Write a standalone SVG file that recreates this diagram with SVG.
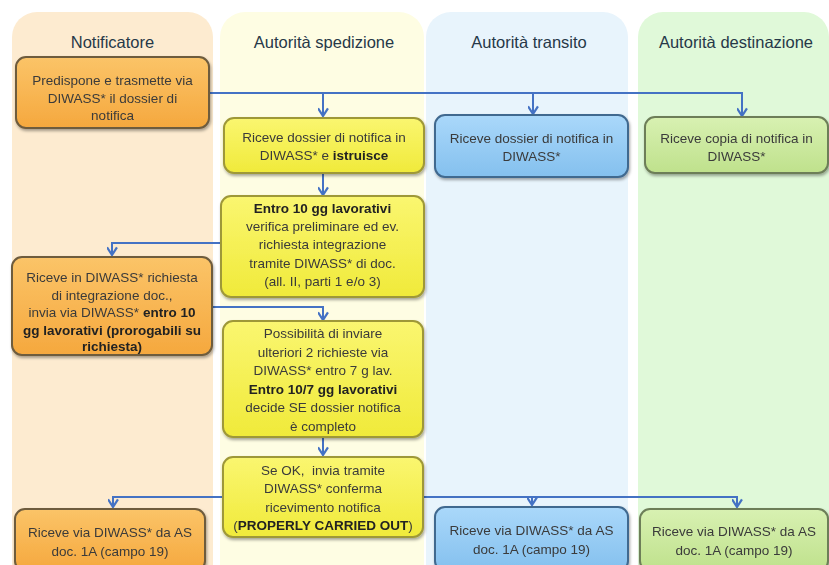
<svg xmlns="http://www.w3.org/2000/svg" width="829" height="565" viewBox="0 0 829 565">
<style>
.hdr{font-family:"Liberation Sans",Arial,sans-serif;font-size:16.5px;fill:#263848;text-anchor:middle}
.t{font-family:"Liberation Sans",Arial,sans-serif;font-size:13.5px;fill:#3a3a3a;text-anchor:middle}
.b{font-weight:bold;fill:#222}
.conn{fill:none;stroke:#4472C4;stroke-width:2}
.orange{fill:url(#gO);stroke:#6E5B3C;stroke-width:2}
.yellow{fill:url(#gY);stroke:#9E9838;stroke-width:2}
.blue{fill:url(#gB);stroke:#41698F;stroke-width:2}
.green{fill:url(#gG);stroke:#6D7E58;stroke-width:2}
</style>
<defs>
<linearGradient id="gO" x1="0" y1="0" x2="0" y2="1"><stop offset="0" stop-color="#FBC468"/><stop offset="1" stop-color="#F5A83E"/></linearGradient>
<linearGradient id="gY" x1="0" y1="0" x2="0" y2="1"><stop offset="0" stop-color="#FAF670"/><stop offset="1" stop-color="#F0EA3A"/></linearGradient>
<linearGradient id="gB" x1="0" y1="0" x2="0" y2="1"><stop offset="0" stop-color="#AAD8FA"/><stop offset="1" stop-color="#84C0EE"/></linearGradient>
<linearGradient id="gG" x1="0" y1="0" x2="0" y2="1"><stop offset="0" stop-color="#D8F1B2"/><stop offset="1" stop-color="#BFE18C"/></linearGradient>
<filter id="sh" x="-10%" y="-10%" width="120%" height="130%"><feDropShadow dx="1" dy="2" stdDeviation="1.5" flood-color="#000" flood-opacity="0.35"/></filter>
<marker id="arr" viewBox="0 0 10 10" refX="9" refY="5" markerWidth="11" markerHeight="11" markerUnits="userSpaceOnUse" orient="auto"><path d="M2,0.5 L9,5 L2,9.5" fill="none" stroke="#4472C4" stroke-width="2"/></marker>
</defs>
<rect width="829" height="565" fill="#fff"/>
<g id="lanes">
<rect x="12" y="12" width="201" height="600" rx="25" fill="#FDEBD0"/>
<rect x="220" y="12" width="204" height="600" rx="25" fill="#FEFDE3"/>
<rect x="426" y="12" width="202" height="600" rx="25" fill="#E8F4FC"/>
<rect x="638" y="12" width="191" height="600" rx="25" fill="#E0F9D9"/>
<text class="hdr" x="112.5" y="48">Notificatore</text>
<text class="hdr" x="324" y="48">Autorità spedizione</text>
<text class="hdr" x="529" y="48">Autorità transito</text>
<text class="hdr" x="736" y="48">Autorità destinazione</text>
</g>
<g id="connectors">
<path class="conn" d="M209,93 H742 V116" marker-end="url(#arr)"/>
<path class="conn" d="M323,93 V116" marker-end="url(#arr)"/>
<path class="conn" d="M533,93 V114" marker-end="url(#arr)"/>
<path class="conn" d="M323,173 V195" marker-end="url(#arr)"/>
<path class="conn" d="M221,243 H112 V255" marker-end="url(#arr)"/>
<path class="conn" d="M212,307 H323 V320" marker-end="url(#arr)"/>
<path class="conn" d="M323,437 V455" marker-end="url(#arr)"/>
<path class="conn" d="M223,497 H113 V507" marker-end="url(#arr)"/>
<path class="conn" d="M423,497 H737 V507" marker-end="url(#arr)"/>
<path class="conn" d="M532,497 V505" marker-end="url(#arr)"/>
</g>
<g id="n1" filter="url(#sh)">
<rect class="orange" x="16" y="57" width="193" height="71" rx="10"/>
<text class="t" x="112.5" y="85">Predispone e trasmette via</text>
<text class="t" x="112.5" y="102.5">DIWASS* il dossier di</text>
<text class="t" x="112.5" y="120">notifica</text>
</g>
<g id="n2" filter="url(#sh)">
<rect class="yellow" x="224" y="118" width="200" height="55" rx="10"/>
<text class="t" x="324" y="141.5">Riceve dossier di notifica in</text>
<text class="t" x="324" y="160">DIWASS* e <tspan class="b">istruisce</tspan></text>
</g>
<g id="n3" filter="url(#sh)">
<rect class="blue" x="435" y="115" width="193" height="62" rx="10"/>
<text class="t" x="531.5" y="142.5">Riceve dossier di notifica in</text>
<text class="t" x="531.5" y="161">DIWASS*</text>
</g>
<g id="n4" filter="url(#sh)">
<rect class="green" x="645" y="117" width="183" height="56" rx="10"/>
<text class="t" x="736.5" y="142.5">Riceve copia di notifica in</text>
<text class="t" x="736.5" y="161">DIWASS*</text>
</g>
<g id="n5" filter="url(#sh)">
<rect class="yellow" x="221" y="196" width="203" height="101" rx="10"/>
<text class="t b" x="322.5" y="213">Entro 10 gg lavorativi</text>
<text class="t" x="322.5" y="231">verifica preliminare ed ev.</text>
<text class="t" x="322.5" y="249">richiesta integrazione</text>
<text class="t" x="322.5" y="268">tramite DIWASS* di doc.</text>
<text class="t" x="322.5" y="286">(all. II, parti 1 e/o 3)</text>
</g>
<g id="n6" filter="url(#sh)">
<rect class="orange" x="12" y="257" width="200" height="98" rx="10"/>
<text class="t" x="112" y="282">Riceve in DIWASS* richiesta</text>
<text class="t" x="112" y="299.5">di integrazione doc.,</text>
<text class="t" x="112" y="317">invia via DIWASS* <tspan class="b">entro 10</tspan></text>
<text class="t b" x="112" y="334.5">gg lavorativi (prorogabili su</text>
<text class="t b" x="112" y="351">richiesta)</text>
</g>
<g id="n7" filter="url(#sh)">
<rect class="yellow" x="223" y="321" width="200" height="116" rx="10"/>
<text class="t" x="323" y="338">Possibilità di inviare</text>
<text class="t" x="323" y="356.5">ulteriori 2 richieste via</text>
<text class="t" x="323" y="375">DIWASS* entro 7 g lav.</text>
<text class="t b" x="323" y="393.5">Entro 10/7 gg lavorativi</text>
<text class="t" x="323" y="412">decide SE dossier notifica</text>
<text class="t" x="323" y="430.5">è completo</text>
</g>
<g id="n8" filter="url(#sh)">
<rect class="yellow" x="223" y="457" width="200" height="80" rx="10"/>
<text class="t" x="323" y="475" xml:space="preserve">Se OK,  invia tramite</text>
<text class="t" x="323" y="493">DIWASS* conferma</text>
<text class="t" x="323" y="511.5">ricevimento notifica</text>
<text class="t" x="323" y="530">(<tspan class="b">PROPERLY CARRIED OUT</tspan>)</text>
</g>
<g id="n9" filter="url(#sh)">
<rect class="orange" x="15" y="509" width="190" height="62" rx="10"/>
<text class="t" x="110" y="536.5">Riceve via DIWASS* da AS</text>
<text class="t" x="110" y="556">doc. 1A (campo 19)</text>
</g>
<g id="n10" filter="url(#sh)">
<rect class="blue" x="435" y="507" width="193" height="64" rx="10"/>
<text class="t" x="531.5" y="535">Riceve via DIWASS* da AS</text>
<text class="t" x="531.5" y="553.5">doc. 1A (campo 19)</text>
</g>
<g id="n11" filter="url(#sh)">
<rect class="green" x="640" y="509" width="188" height="62" rx="10"/>
<text class="t" x="734" y="536">Riceve via DIWASS* da AS</text>
<text class="t" x="734" y="554.5">doc. 1A (campo 19)</text>
</g>
</svg>
